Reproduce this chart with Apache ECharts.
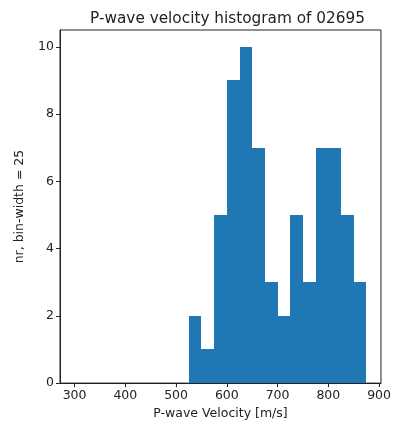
<!DOCTYPE html>
<html>
<head>
<meta charset="utf-8">
<script src="https://cdn.jsdelivr.net/npm/echarts@6/dist/echarts.min.js"></script>
<style>html,body{margin:0;padding:0;background:#fff}#c{width:394px;height:425px}</style>
</head>
<body>
<div id="c"></div>
<script>
const binWidth = 25;
const binStarts = [525, 550, 575, 600, 625, 650, 675, 700, 725, 750, 775, 800, 825, 850];
const counts = [2, 1, 5, 9, 10, 7, 3, 2, 5, 3, 7, 7, 5, 3];
const xTicks = [300, 400, 500, 600, 700, 800, 900];
const yTicks = [0, 2, 4, 6, 8, 10];

const data = binStarts.map((s, i) => [s, s + binWidth, counts[i]]);
const font = 'DejaVu Sans';
const chart = echarts.init(document.getElementById('c'), null, {renderer: 'canvas'});
chart.setOption({
  animation: false,
  backgroundColor: '#fff',
  title: {
    text: 'P-wave velocity histogram of 02695',
    left: 222.5, top: 7, textAlign: 'center',
    textStyle: {fontFamily: font, fontSize: 15.3, fontWeight: 'normal', color: '#222'}
  },
  grid: {left: 60, right: 9, top: 30, bottom: 40, show: true, borderColor: '#222', borderWidth: 1, backgroundColor: 'transparent'},
  xAxis: {
    type: 'value', min: 271.25, max: 903.75,
    name: 'P-wave Velocity [m/s]', nameLocation: 'middle', nameGap: 19,
    nameTextStyle: {fontFamily: font, fontSize: 12.5, color: '#222'},
    axisLine: {show: true, onZero: false, lineStyle: {color: '#222'}},
    axisTick: {show: true, length: 4, customValues: xTicks, lineStyle: {color: '#222'}},
    axisLabel: {customValues: xTicks, fontFamily: font, fontSize: 12.5, color: '#222', margin: 6},
    splitLine: {show: false}
  },
  yAxis: {
    type: 'value', min: 0, max: 10.5,
    name: 'nr, bin-width = 25', nameLocation: 'middle', nameGap: 34,
    nameTextStyle: {fontFamily: font, fontSize: 12.5, color: '#222'},
    axisLine: {show: true, lineStyle: {color: '#222'}},
    axisTick: {show: true, length: 4, customValues: yTicks, lineStyle: {color: '#222'}},
    axisLabel: {customValues: yTicks, fontFamily: font, fontSize: 12.5, color: '#222', margin: 6},
    splitLine: {show: false}
  },
  series: [{
    type: 'custom',
    data: data,
    encode: {x: [0, 1], y: 2},
    renderItem: function (params, api) {
      const p0 = api.coord([api.value(0), api.value(2)]);
      const p1 = api.coord([api.value(1), 0]);
      const x0 = Math.round(p0[0]), x1 = Math.round(p1[0]);
      const y0 = Math.round(p0[1]), y1 = Math.round(p1[1]);
      return {
        type: 'rect',
        shape: {x: x0, y: y0, width: x1 - x0, height: y1 - y0},
        style: {fill: '#1f77b4'}
      };
    }
  }]
});
</script>
</body>
</html>
